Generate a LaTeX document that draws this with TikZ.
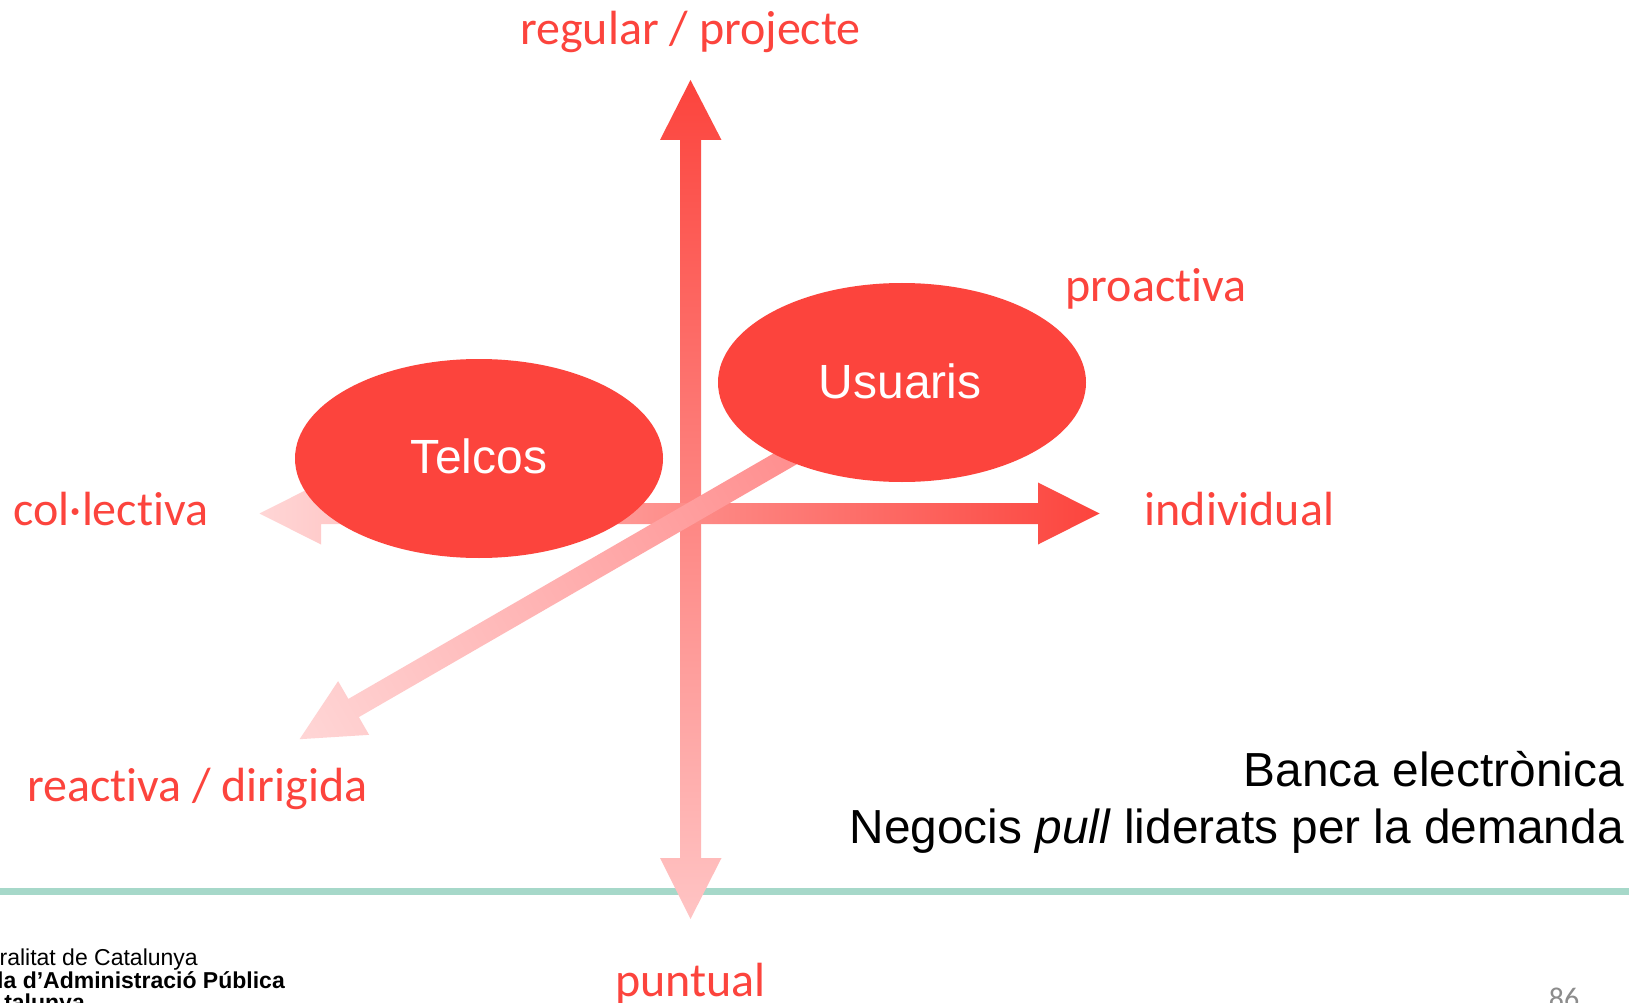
\documentclass[tikz,border=0pt]{standalone}
\usepackage{fontspec}
\setmainfont{Liberation Sans}
\newfontfamily\carl[Ligatures=NoCommon]{Carlito}
\definecolor{hot}{HTML}{FC443D}
\definecolor{paleA}{HTML}{FFC4C4}
\definecolor{paleB}{HTML}{FFD6D6}
\definecolor{midR}{HTML}{FF8C8C}
\definecolor{rule}{HTML}{A6D8C9}
\definecolor{pagenum}{HTML}{8C8C8C}
\tikzset{
  redlabel/.style={inner sep=0pt,text=hot,font=\carl\fontsize{48}{56}\selectfont},
  blob/.style={ellipse,fill=hot,minimum width=368pt,minimum height=199pt,inner sep=0pt},
  blobtext/.style={inner sep=0pt,anchor=base,text=white,font=\fontsize{48}{56}\selectfont},
  blacktext/.style={inner sep=0pt,anchor=base east,text=black,font=\fontsize{47.8}{56}\selectfont},
  logothin/.style={inner sep=0pt,anchor=base east,text=black,font=\fontsize{23}{27}\selectfont},
  logobold/.style={logothin,font=\bfseries\fontsize{23}{27}\selectfont},
}
\usetikzlibrary{shapes.geometric}
\begin{document}
\begin{tikzpicture}[x=1pt,y=-1pt]
\useasboundingbox (0,0) rectangle (1642,1003);
\clip (0,0) rectangle (1642,1003);
\fill[white] (0,0) rectangle (1642,1003);
% footer rule
\fill[rule] (0,887.5) rectangle (1629,894.5);
% vertical axis
\shade[top color=hot,bottom color=paleA]
  (690.5,80) -- (721.5,140) -- (701,140) -- (701,858) -- (721.5,858) -- (690.5,919)
  -- (660,858) -- (680,858) -- (680,140) -- (660,140) -- cycle;
% horizontal axis
\shade[left color=paleB,right color=hot]
  (259.5,513.5) -- (321,482.5) -- (321,503) -- (1038,503) -- (1038,482.5) -- (1099.5,513.5)
  -- (1038,544.5) -- (1038,524) -- (321,524) -- (321,544.5) -- cycle;
% diagonal axis
\begin{scope}[transform canvas={shift={(690.5pt,-513.5pt)},rotate=30}]
\shade[left color=paleB,right color=midR]
  (-451.4,0) -- (-389,31) -- (-389,10.5) -- (140,10.5) -- (140,-10.5) -- (-389,-10.5) -- (-389,-31) -- cycle;
\end{scope}
% ellipses
\node[blob] (usu) at (902,382.5) {};
\node[blob] (tel) at (479,458.5) {};
\node[blobtext] (usutxt) at (900,398) {Usuaris};
\node[blobtext] (teltxt) at (479,473) {Telcos};
% labels
\node[redlabel,anchor=base] (top) at (690.5,45) {regular / projecte};
\node[redlabel,anchor=base west] (pro) at (1065.5,301.5) {proactiva};
\node[redlabel,anchor=base west] (col) at (13.5,525.5) {col·lectiva};
\node[redlabel,anchor=base west] (ind) at (1144.5,525.5) {individual};
\node[redlabel,anchor=base west] (rea) at (27,801.5) {reactiva / dirigida};
\node[redlabel,anchor=base] (pun) at (690.5,996.5) {puntual};
% caption
\node[blacktext] (capA) at (1624,786) {Banca electrònica};
\node[blacktext] (capB) at (1624,843) {Negocis \textit{pull} liderats per la demanda};
% footer logo text
\node[logothin] (logoA) at (198,965) {ralitat de Catalunya};
\node[logobold] (logoB) at (285,988) {la d’Administració Pública};
\node[logobold] (logoC) at (85,1010) {talunya};
\node[inner sep=0pt,anchor=base,text=pagenum,font=\carl\fontsize{30}{36}\selectfont] (num) at (1564,1008) {86};
\end{tikzpicture}
\end{document}
